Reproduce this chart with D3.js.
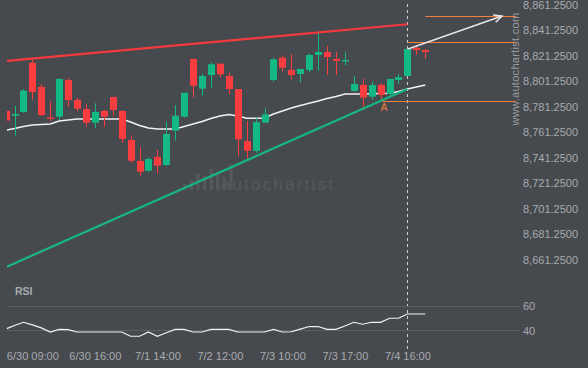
<!DOCTYPE html>
<html>
<head>
<meta charset="utf-8">
<script src="https://cdn.jsdelivr.net/npm/d3@7"></script>
<style>
	body { margin: 0; background: #46494e; }
	svg { display: block; font-family: "Liberation Sans", Arial, sans-serif; }
	.lbl { fill: #a8abaf; font-size: 11px; }
</style>
</head>
<body>
<div id="chart"></div>
<script>
//---------------- data ----------------------
// candles start at index -1 (partly hidden on the left edge)
var firstIdx = -1;
var opens  = [8777.6, 8773.9, 8776.8, 8815.4, 8796.4, 8772.6, 8773.1, 8801.9, 8786.2, 8779.1, 8768.4, 8777.6, 8788.5, 8777.6, 8754.8, 8738.4, 8730.7, 8741.5, 8735.2, 8762.1, 8773.1, 8818.4, 8795.1, 8805.8, 8814.7, 8805.0, 8794.8, 8754.0, 8746.2, 8768.4, 8801.9, 8819.4, 8809.7, 8806.6, 8809.7, 8821.5, 8823.8, 8818.4, 8817.0, 8793.3, 8798.0, 8788.8, 8798.0, 8790.9, 8801.9, 8805.0, 8827.0, 8825.4];
var closes = [8770.0, 8775.2, 8793.5, 8792.5, 8774.4, 8771.8, 8802.7, 8786.2, 8779.4, 8768.4, 8776.8, 8773.1, 8778.4, 8755.6, 8738.6, 8730.0, 8739.9, 8734.7, 8759.5, 8773.9, 8791.9, 8797.4, 8805.0, 8814.2, 8806.3, 8794.8, 8755.4, 8746.4, 8768.9, 8775.0, 8818.1, 8811.5, 8805.8, 8810.5, 8821.5, 8823.8, 8819.9, 8816.8, 8817.6, 8798.7, 8788.0, 8798.0, 8790.1, 8802.7, 8804.2, 8826.2, 8825.4, 8823.8];
var highs  = [8778.4, 8781.5, 8794.8, 8817.6, 8798.7, 8785.4, 8803.2, 8803.4, 8787.8, 8783.1, 8783.6, 8778.4, 8788.8, 8778.4, 8758.5, 8749.1, 8741.3, 8747.0, 8769.2, 8782.3, 8791.9, 8818.4, 8806.6, 8815.8, 8814.7, 8807.6, 8794.8, 8769.7, 8772.3, 8779.7, 8819.4, 8821.3, 8822.3, 8810.5, 8822.8, 8839.3, 8828.5, 8823.8, 8823.6, 8805.0, 8802.9, 8800.5, 8799.3, 8802.7, 8806.6, 8826.2, 8828.5, 8826.2];
var lows   = [8768.9, 8758.2, 8776.2, 8786.7, 8773.6, 8769.7, 8770.5, 8780.9, 8777.3, 8765.3, 8764.0, 8765.3, 8773.9, 8752.7, 8737.0, 8726.8, 8730.0, 8728.7, 8734.7, 8754.3, 8772.3, 8788.0, 8789.6, 8795.8, 8804.0, 8790.7, 8742.3, 8740.5, 8744.9, 8768.4, 8800.5, 8808.4, 8802.4, 8799.8, 8807.9, 8809.2, 8805.8, 8805.8, 8813.4, 8792.7, 8780.9, 8786.2, 8786.2, 8790.1, 8798.7, 8805.0, 8821.5, 8818.4];
var maValues = [8762.4, 8763.8, 8765.4, 8766.6, 8767.0, 8767.4, 8769.7, 8770.5, 8771.3, 8771.3, 8771.3, 8771.3, 8771.3, 8771.3, 8768.9, 8766.2, 8764.2, 8763.5, 8763.5, 8763.5, 8765.4, 8767.4, 8769.3, 8771.7, 8773.6, 8774.8, 8773.6, 8771.8, 8771.8, 8772.1, 8775.2, 8777.6, 8779.9, 8781.9, 8783.6, 8785.4, 8787.4, 8788.9, 8790.9, 8790.9, 8790.9, 8791.1, 8791.3, 8791.5, 8792.9, 8794.8, 8796.4, 8798.0];
var rsiValues = [41, 44, 46.6, 44.5, 42, 38.6, 40.8, 40.5, 38.6, 38.6, 38.6, 38.6, 38.6, 38.6, 35.1, 35.1, 38.6, 35.1, 38, 40.8, 40.8, 38.6, 38.6, 40.8, 40.8, 40.8, 38.6, 38.6, 38.6, 38.6, 40.8, 38.6, 38.8, 41, 43.1, 43.1, 40.8, 40.8, 43.5, 46.6, 45, 46.6, 46.6, 49.9, 49.9, 53.4, 53.4, 53.4];

var timeLabels = ["6/30 09:00", "6/30 16:00", "7/1 14:00", "7/2 12:00", "7/3 10:00", "7/3 17:00", "7/4 16:00"];
var timeIdx = [2, 9, 16, 23, 30, 37, 44];
var priceTicks = [8661.25, 8681.25, 8701.25, 8721.25, 8741.25, 8761.25, 8781.25, 8801.25, 8821.25, 8841.25, 8861.25];
var rsiTicks = [40, 60];

// pattern lines [index, price]
var resistance = [[-0.84, 8816.8], [44, 8845.6]];
var support = [[-0.84, 8655.5], [44, 8794.8]];
var forecast = [[44.07, 8826.2], [54.6, 8852.1]];
var levels = [8852.1, 8831.4, 8785.4];
var levelStart = [46, 44, 41.2];
var pointA = [41.4, 8785.4];
var nowIdx = 44;

//---------------- sizes & scales ----------------------
var w = 588;
var h = 368;
var left = 7;
var plotRight = 516;

var xScale = d3.scaleLinear().domain([0, 44]).range([14.5, 407.4]);
var yScale = d3.scaleLinear().domain([8661.25, 8861.25]).range([259.3, 4.3]);
var rsiScale = d3.scaleLinear().domain([40, 60]).range([330.3, 306]);

var candles = opens.map(function(o, k) {
	return { i: firstIdx + k, o: o, c: closes[k], h: highs[k], l: lows[k] };
});

var svg = d3.select("#chart").append("svg").attr("width", w).attr("height", h);

svg.append("rect").attr("width", w).attr("height", h).attr("fill", "#46494e");

svg.append("clipPath").attr("id", "clip")
	.append("rect").attr("x", left).attr("y", 0).attr("width", 515 - left).attr("height", 272);
svg.append("clipPath").attr("id", "clipR")
	.append("rect").attr("x", left).attr("y", 280).attr("width", 510).attr("height", 70);

//---------------- watermark ----------------------
var logoBars = [6, 10, 17, 14, 21, 17, 13, 26];
svg.append("g").selectAll("rect")
	.data(logoBars)
	.enter()
	.append("rect")
	.attr("x", function(d, i) { return 183 + i * 6.6; })
	.attr("y", function(d) { return 190 - d; })
	.attr("width", 3.5)
	.attr("height", function(d) { return d; })
	.attr("fill", "#54575c");

svg.append("text")
	.attr("x", 278).attr("y", 190)
	.attr("text-anchor", "middle")
	.style("font-size", "17px")
	.style("letter-spacing", "2.2px")
	.style("font-weight", 300)
	.attr("fill", "#56595e")
	.text("autochartist");

svg.append("text")
	.attr("transform", "translate(519,69) rotate(-90)")
	.attr("text-anchor", "middle")
	.style("font-size", "11px")
	.style("letter-spacing", "0.3px")
	.attr("fill", "#989ba0")
	.text("www.autochartist.com");

//---------------- now line (behind the marks) ----------------------
svg.append("line")
	.attr("x1", Math.round(xScale(nowIdx)) + 0.5)
	.attr("x2", Math.round(xScale(nowIdx)) + 0.5)
	.attr("y1", 4).attr("y2", 350)
	.attr("stroke", "#cfcfcf")
	.attr("stroke-width", 1)
	.attr("stroke-dasharray", "3,3");

//---------------- price axis ----------------------
var yAxis = d3.axisRight(yScale).tickValues(priceTicks).tickSize(0).tickFormat(d3.format(",.4f"));
var ya = svg.append("g").attr("transform", "translate(523,0)").call(yAxis);
ya.select(".domain").remove();
ya.selectAll("text").attr("class", "lbl").attr("x", 0).attr("dy", "0.35em").attr("fill", null);

//---------------- price panel ----------------------
var plot = svg.append("g").attr("clip-path", "url(#clip)");

var line = d3.line()
	.x(function(d) { return xScale(d[0]); })
	.y(function(d) { return yScale(d[1]); });

// moving average
plot.append("path")
	.datum(maValues.map(function(v, k) { return [firstIdx + k, v]; }))
	.attr("d", line)
	.attr("fill", "none")
	.attr("stroke", "#f2f2f2")
	.attr("stroke-width", 1.5);

// candles
var cg = plot.append("g").selectAll("g")
	.data(candles)
	.enter()
	.append("g");

cg.append("line")
	.attr("x1", function(d) { return Math.round(xScale(d.i)) + 0.5; })
	.attr("x2", function(d) { return Math.round(xScale(d.i)) + 0.5; })
	.attr("y1", function(d) { return yScale(d.h); })
	.attr("y2", function(d) { return yScale(d.l); })
	.attr("stroke", function(d) { return d.c >= d.o ? "#14b883" : "#fb3d3f"; })
	.attr("stroke-width", 1);

cg.append("rect")
	.attr("x", function(d) { return Math.round(xScale(d.i)) - 3; })
	.attr("y", function(d) { return yScale(Math.max(d.o, d.c)); })
	.attr("width", 7)
	.attr("height", function(d) { return Math.max(1.5, yScale(Math.min(d.o, d.c)) - yScale(Math.max(d.o, d.c))); })
	.attr("fill", function(d) { return d.c >= d.o ? "#14b883" : "#fb3d3f"; });

// trend lines
plot.append("path").datum(resistance).attr("d", line)
	.attr("stroke", "#f6393c").attr("stroke-width", 2.2).attr("fill", "none");
plot.append("path").datum(support).attr("d", line)
	.attr("stroke", "#17b581").attr("stroke-width", 2.2).attr("fill", "none");

// levels
svg.append("g").selectAll("line")
	.data(levels)
	.enter()
	.append("line")
	.attr("x1", function(d, i) { return xScale(levelStart[i]); })
	.attr("x2", plotRight)
	.attr("y1", function(d) { return Math.round(yScale(d)) + 0.5; })
	.attr("y2", function(d) { return Math.round(yScale(d)) + 0.5; })
	.attr("stroke", "#f2813e")
	.attr("stroke-width", 1.2);

svg.append("text")
	.attr("x", xScale(pointA[0])).attr("y", yScale(pointA[1]) + 10)
	.attr("text-anchor", "middle")
	.style("font-size", "10px")
	.attr("fill", "#f2813e")
	.text("A");

// forecast arrow
svg.append("path").datum(forecast).attr("d", line)
	.attr("stroke", "#e6e6e6").attr("stroke-width", 1.5).attr("fill", "none");
var tip = [xScale(forecast[1][0]), yScale(forecast[1][1])];
var ang = Math.atan2(yScale(forecast[1][1]) - yScale(forecast[0][1]), xScale(forecast[1][0]) - xScale(forecast[0][0]));
var hl = 9;
svg.append("path")
	.attr("d", "M" + (tip[0] - hl * Math.cos(ang - 0.45)) + "," + (tip[1] - hl * Math.sin(ang - 0.45)) +
		"L" + tip[0] + "," + tip[1] +
		"L" + (tip[0] - hl * Math.cos(ang + 0.45)) + "," + (tip[1] - hl * Math.sin(ang + 0.45)))
	.attr("stroke", "#e6e6e6").attr("stroke-width", 1.5).attr("fill", "none");

//---------------- RSI panel ----------------------
svg.append("text")
	.attr("x", 15).attr("y", 295)
	.style("font-size", "10.5px")
	.style("font-weight", "bold")
	.attr("fill", "#a8abaf")
	.text("RSI");

svg.append("g").selectAll("line")
	.data(rsiTicks)
	.enter()
	.append("line")
	.attr("x1", left).attr("x2", 520)
	.attr("y1", function(d) { return Math.round(rsiScale(d)) + 0.5; })
	.attr("y2", function(d) { return Math.round(rsiScale(d)) + 0.5; })
	.attr("stroke", "#5b605c")
	.attr("stroke-width", 1);

var rAxis = d3.axisRight(rsiScale).tickValues(rsiTicks).tickSize(0);
var ra = svg.append("g").attr("transform", "translate(523,0)").call(rAxis);
ra.select(".domain").remove();
ra.selectAll("text").attr("class", "lbl").attr("x", 0).attr("dy", "0.35em").attr("fill", null);

var rsiLine = d3.line()
	.x(function(d) { return xScale(d[0]); })
	.y(function(d) { return rsiScale(d[1]); });

svg.append("path")
	.datum(rsiValues.map(function(v, k) { return [firstIdx + k, v]; }))
	.attr("clip-path", "url(#clipR)")
	.attr("d", rsiLine)
	.attr("fill", "none")
	.attr("stroke", "#f2f2f2")
	.attr("stroke-width", 1.2);

//---------------- time axis ----------------------
var xAxis = d3.axisBottom(xScale).tickValues(timeIdx).tickSize(0)
	.tickFormat(function(d, i) { return timeLabels[i]; });
var xa = svg.append("g").attr("transform", "translate(0,352)").call(xAxis);
xa.select(".domain").remove();
xa.selectAll("text").attr("class", "lbl").attr("y", 0).attr("dy", "0.71em").attr("fill", null);
</script>
</body>
</html>
